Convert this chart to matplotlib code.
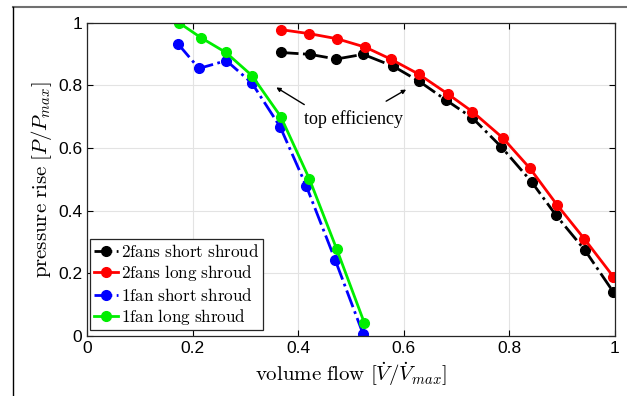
import matplotlib as mpl
import matplotlib.pyplot as plt
from matplotlib.lines import Line2D

mpl.rcParams['mathtext.fontset'] = 'cm'
mpl.rcParams['font.family'] = 'Liberation Sans'

# 2 fans, short shroud
x_2s = [0.367, 0.422, 0.472, 0.523, 0.580, 0.629, 0.680, 0.730, 0.785, 0.842, 0.888, 0.943, 0.997]
y_2s = [0.905, 0.899, 0.884, 0.899, 0.861, 0.813, 0.753, 0.696, 0.603, 0.492, 0.386, 0.274, 0.140]
# 2 fans, long shroud
x_2l = [0.367, 0.421, 0.473, 0.527, 0.575, 0.628, 0.683, 0.730, 0.787, 0.839, 0.890, 0.942, 0.997]
y_2l = [0.978, 0.965, 0.949, 0.922, 0.884, 0.836, 0.773, 0.716, 0.633, 0.535, 0.419, 0.310, 0.189]
# 1 fan, short shroud
x_1s = [0.172, 0.212, 0.264, 0.3125, 0.366, 0.415, 0.470, 0.523]
y_1s = [0.933, 0.854, 0.879, 0.807, 0.667, 0.480, 0.243, 0.006]
# 1 fan, long shroud
x_1l = [0.174, 0.216, 0.263, 0.3125, 0.367, 0.421, 0.473, 0.525]
y_1l = [1.000, 0.952, 0.905, 0.831, 0.700, 0.502, 0.277, 0.043]

labels = ['2fans short shroud', '2fans long shroud', '1fan short shroud', '1fan long shroud']

fig = plt.figure(figsize=(6.27, 3.96), dpi=100)
ax = fig.add_axes([87/627, 60/396, 528/627, 313.3/396])

kw = dict(lw=2, marker='o', ms=7)
ax.plot(x_2s, y_2s, '-.', color='black', label=labels[0], **kw)
ax.plot(x_2l, y_2l, '-', color='red', label=labels[1], **kw)
ax.plot(x_1s, y_1s, '-.', color='blue', label=labels[2], **kw)
ax.plot(x_1l, y_1l, '-', color='#00ee00', label=labels[3], **kw)

ax.set_xlim(0, 1)
ax.set_ylim(0, 1)
ax.set_xticks([0, 0.2, 0.4, 0.6, 0.8, 1])
ax.set_xticklabels(['0', '0.2', '0.4', '0.6', '0.8', '1'])
ax.set_yticks([0, 0.2, 0.4, 0.6, 0.8, 1])
ax.set_yticklabels(['0', '0.2', '0.4', '0.6', '0.8', '1'])
ax.tick_params(direction='in', top=True, right=True, labelsize=12.5, length=4, width=0.8)
ax.grid(True, color='#e3e3e3', lw=0.8)
ax.set_axisbelow(True)
for s in ax.spines.values():
    s.set_linewidth(0.9)
    s.set_color('#262626')

ax.set_xlabel(r'$\mathrm{volume\ flow}\ [\dot{V}/\dot{V}_{max}]$', fontsize=15, labelpad=3)
ax.set_ylabel(r'$\mathrm{pressure\ rise}\ [P/P_{max}]$', fontsize=15, labelpad=3)

ax.text(0.504, 0.693, 'top efficiency', fontsize=13, family='Liberation Serif',
        ha='center', va='center')
arw = dict(arrowstyle='-|>', color='black', lw=1, mutation_scale=6)
ax.annotate('', xy=(0.354, 0.798), xytext=(0.416, 0.734), arrowprops=arw)
ax.annotate('', xy=(0.609, 0.791), xytext=(0.562, 0.745), arrowprops=arw)

leg = ax.legend(loc='lower left', bbox_to_anchor=(0.006, 0.018), fancybox=False,
                edgecolor='#262626', framealpha=1, handlelength=1.4, handletextpad=0.2,
                borderpad=0.2, labelspacing=0.2, borderaxespad=0,
                prop={'size': 12.3})
leg.get_frame().set_linewidth(0.9)
for t in leg.get_texts():
    t.set_text(r'$\mathrm{' + t.get_text().replace(' ', r'\ ') + '}$')

# frame of the surrounding page
fig.add_artist(Line2D([13/627, 1], [1 - 7/396, 1 - 7/396], color='#707070', lw=1.5))
fig.add_artist(Line2D([13/627, 13/627], [0, 1 - 7/396], color='black', lw=1))

plt.savefig('out.png', dpi=100)
